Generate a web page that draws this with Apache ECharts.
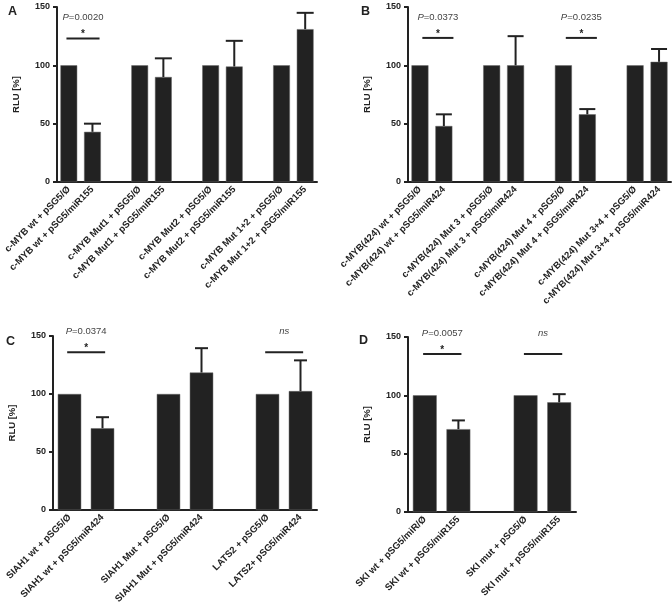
<!DOCTYPE html>
<html>
<head>
<meta charset="utf-8">
<script src="https://cdn.jsdelivr.net/npm/echarts@6/dist/echarts.min.js"></script>
<style>html,body{margin:0;padding:0;background:#fff;}#c{width:672px;height:613px;}</style>
</head>
<body>
<div id="c"></div>
<script>
// ---------- data ----------
const catsA = ['c-MYB wt + pSG5/Ø','c-MYB wt + pSG5/miR155',' ','c-MYB Mut1 + pSG5/Ø','c-MYB Mut1 + pSG5/miR155','  ','c-MYB Mut2 + pSG5/Ø','c-MYB Mut2 + pSG5/miR155','   ','c-MYB Mut 1+2 + pSG5/Ø','c-MYB Mut 1+2 + pSG5/miR155'];
const valsA = [100, 43, null, 100, 90, null, 100, 99, null, 100, 131];
const errA  = [null, 50, null, null, 106, null, null, 121, null, null, 145];
const sigA  = [{from:0, to:1, y:123, label:'P=0.0020', mark:'*'}];

const catsB = ['c-MYB(424) wt + pSG5/Ø','c-MYB(424) wt + pSG5/miR424',' ','c-MYB(424) Mut 3 + pSG5/Ø','c-MYB(424) Mut 3 + pSG5/miR424','  ','c-MYB(424) Mut 4 + pSG5/Ø','c-MYB(424) Mut 4 + pSG5/miR424','   ','c-MYB(424) Mut 3+4 + pSG5/Ø','c-MYB(424) Mut 3+4 + pSG5/miR424'];
const valsB = [100, 48, null, 100, 100, null, 100, 58, null, 100, 103];
const errB  = [null, 58, null, null, 125, null, null, 62.5, null, null, 114];
const sigB  = [{from:0, to:1, y:123.5, label:'P=0.0373', mark:'*'}, {from:6, to:7, y:123.5, label:'P=0.0235', mark:'*'}];

const catsC = ['SIAH1 wt + pSG5/Ø','SIAH1 wt + pSG5/miR424',' ','SIAH1 Mut + pSG5/Ø','SIAH1 Mut + pSG5/miR424','  ','LATS2 + pSG5/Ø','LATS2+ pSG5/miR424'];
const valsC = [100, 70.5, null, 100, 118.5, null, 100, 102.5];
const errC  = [null, 80, null, null, 139.5, null, null, 129];
const sigC  = [{from:0, to:1, y:136, label:'P=0.0374', mark:'*'}, {from:6, to:7, y:136, label:'ns', mark:''}];

const catsD = ['SKI wt + pSG5/miR/Ø','SKI wt + pSG5/miR155',' ','SKI mut + pSG5/Ø','SKI mut + pSG5/miR155'];
const valsD = [100, 71, null, 100, 94];
const errD  = [null, 78.5, null, null, 101];
const sigD  = [{from:0, to:1, y:135.5, label:'P=0.0057', mark:'*'}, {from:3, to:4, y:135.5, label:'ns', mark:''}];

const yTicks = [0, 50, 100, 150];

// ---------- helpers ----------
const INK = '#222';
const FONT = '"Liberation Sans", Arial, sans-serif';

function errData(vals, errs) {
  const out = [];
  vals.forEach((v, i) => { if (v != null && errs[i] != null) out.push([i, v, errs[i]]); });
  return out;
}
function makeErr(cap) {
  return function (params, api) {
    const i = api.value(0), v = api.value(1), e = api.value(2);
    const p0 = api.coord([i, v]), p1 = api.coord([i, e]);
    return {type:'group', children:[
      {type:'line', shape:{x1:p0[0], y1:p0[1], x2:p1[0], y2:p1[1]}, style:{stroke:INK, lineWidth:2}},
      {type:'line', shape:{x1:p1[0]-cap/2, y1:p1[1], x2:p1[0]+cap/2, y2:p1[1]}, style:{stroke:INK, lineWidth:2}}
    ]};
  };
}
function makeSig(list, offs) {
  return function (params, api) {
    const s = list[params.dataIndex];
    const a = api.coord([s.from, s.y]), b = api.coord([s.to, s.y]);
    const band = api.size([1, 0])[0];
    const x1 = a[0] + offs[0]*band, x2 = b[0] + offs[1]*band, mid = (x1 + x2)/2;
    const isP = s.label.charAt(0) === 'P';
    const txt = isP ? '{i|P}{n|' + s.label.slice(1) + '}' : '{i|' + s.label + '}';
    const children = [
      {type:'line', shape:{x1:x1, y1:a[1], x2:x2, y2:a[1]}, style:{stroke:INK, lineWidth:2}},
      {type:'text', x:mid, y:a[1]-21, style:{text:txt, align:'center', verticalAlign:'middle',
        rich:{i:{fontStyle:'italic', fontSize:9.5, fontFamily:FONT, fill:'#444'}, n:{fontSize:9.5, fontFamily:FONT, fill:'#444'}}}}
    ];
    if (s.mark) children.push({type:'text', x:mid, y:a[1]-4, style:{text:s.mark, align:'center', verticalAlign:'middle', font:'bold 10px ' + FONT, fill:INK}});
    return {type:'group', children:children};
  };
}

function xAxisCfg(idx, cats) {
  return {
    type:'category', gridIndex:idx, data:cats,
    axisLine:{lineStyle:{color:INK, width:2}},
    axisTick:{alignWithLabel:true, interval:0, length:4, lineStyle:{color:INK, width:2}},
    axisLabel:{interval:0, rotate:45, fontSize:9.5, fontWeight:'bold', color:INK, fontFamily:FONT, margin:6}
  };
}
function yAxisCfg(idx) {
  return {
    type:'value', gridIndex:idx, min:yTicks[0], max:yTicks[yTicks.length-1], interval:yTicks[1]-yTicks[0],
    name:'RLU [%]', nameLocation:'middle', nameGap:36, nameRotate:90,
    nameTextStyle:{fontSize:9.5, fontWeight:'bold', color:INK, fontFamily:FONT},
    axisLine:{show:true, lineStyle:{color:INK, width:2}},
    axisTick:{show:true, length:4, lineStyle:{color:INK, width:2}},
    axisLabel:{fontSize:9, fontWeight:'bold', color:INK, fontFamily:FONT, margin:7},
    splitLine:{show:false}
  };
}
function barSeries(idx, vals) {
  return {type:'bar', xAxisIndex:idx, yAxisIndex:idx, data:vals.map(v => v == null ? '-' : v),
    barWidth:'71%', itemStyle:{color:INK, borderColor:'#666', borderWidth:0.5}, animation:false};
}
function errSeries(idx, vals, errs, cap) {
  return {type:'custom', xAxisIndex:idx, yAxisIndex:idx, data:errData(vals, errs), renderItem:makeErr(cap), animation:false, z:3};
}
function sigSeries(idx, list, offs) {
  return {type:'custom', xAxisIndex:idx, yAxisIndex:idx, data:list.map(s => [s.from, s.y]), renderItem:makeSig(list, offs), animation:false, z:4};
}

const chart = echarts.init(document.getElementById('c'), null, {renderer:'canvas'});
const letter = (t, l, tp) => ({text:t, left:l, top:tp, textStyle:{fontSize:12.5, fontWeight:'bold', color:INK, fontFamily:FONT}});
chart.setOption({
  backgroundColor:'#fff',
  animation:false,
  title:[letter('A', 3, 0), letter('B', 356, 0), letter('C', 1, 330), letter('D', 354, 329)],
  grid:[
    {left:57, right:355, top:7, bottom:431},
    {left:408, right:1, top:7, bottom:431},
    {left:53, right:355, top:336, bottom:103},
    {left:408, right:96, top:337, bottom:101}
  ],
  xAxis:[xAxisCfg(0, catsA), xAxisCfg(1, catsB), xAxisCfg(2, catsC), xAxisCfg(3, catsD)],
  yAxis:[yAxisCfg(0), yAxisCfg(1), yAxisCfg(2), yAxisCfg(3)],
  series:[
    barSeries(0, valsA), errSeries(0, valsA, errA, 17), sigSeries(0, sigA, [-0.1, 0.3]),
    barSeries(1, valsB), errSeries(1, valsB, errB, 16), sigSeries(1, sigB, [0.1, 0.4]),
    barSeries(2, valsC), errSeries(2, valsC, errC, 13), sigSeries(2, sigC, [-0.07, 0.08]),
    barSeries(3, valsD), errSeries(3, valsD, errD, 13), sigSeries(3, sigD, [-0.05, 0.09])
  ]
});
</script>
</body>
</html>
